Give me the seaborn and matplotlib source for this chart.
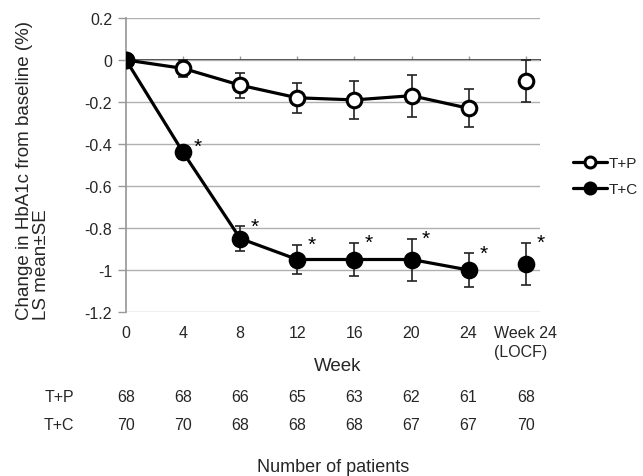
import numpy as np
import pandas as pd
import matplotlib
matplotlib.use("Agg")
import matplotlib.pyplot as plt
import matplotlib.transforms as mtransforms
import seaborn as sns

weeks = ["0", "4", "8", "12", "16", "20", "24", "Week 24\n(LOCF)"]
tp_mean = [0.0, -0.04, -0.12, -0.18, -0.19, -0.17, -0.23, -0.10]
tp_se = [0.0, 0.04, 0.06, 0.07, 0.09, 0.10, 0.09, 0.10]
tc_mean = [0.0, -0.44, -0.85, -0.95, -0.95, -0.95, -1.00, -0.97]
tc_se = [0.0, 0.03, 0.06, 0.07, 0.08, 0.10, 0.08, 0.10]
tc_sig = [False, True, True, True, True, True, True, True]
n_tp = [68, 68, 66, 65, 63, 62, 61, 68]
n_tc = [70, 70, 68, 68, 68, 67, 67, 70]

sns.set_theme(style="white")
plt.rcParams["font.family"] = ["Liberation Sans", "DejaVu Sans"]

W, H = 643, 477
fig = plt.figure(figsize=(W / 100, H / 100), dpi=100)
ax = fig.add_axes([126 / W, 1 - 313 / H, (540 - 126) / W, (313 - 19) / H])

idx = np.arange(len(weeks))
rows = []
for i, w in enumerate(weeks):
    rows.append({"x": i, "group": "T+P", "mean": tp_mean[i], "se": tp_se[i]})
    rows.append({"x": i, "group": "T+C", "mean": tc_mean[i], "se": tc_se[i]})
df = pd.DataFrame(rows)
main = df[df["x"] < len(weeks) - 1]
locf = df[df["x"] == len(weeks) - 1]

styles = {"T+P": "white", "T+C": "black"}
for g, fc in styles.items():
    d = df[df["group"] == g]
    ax.errorbar(d["x"], d["mean"], yerr=d["se"], fmt="none", ecolor="#222222",
                elinewidth=1.2, capsize=3.5, capthick=1.2, zorder=3)

for g, fc in styles.items():
    d = main[main["group"] == g]
    sns.lineplot(data=d, x="x", y="mean", ax=ax, color="black", linewidth=2.3,
                 marker="o", markersize=10.5, markerfacecolor=fc,
                 markeredgecolor="black", markeredgewidth=2.2, zorder=4,
                 label=g, legend=False)
    d2 = locf[locf["group"] == g]
    ax.plot(d2["x"], d2["mean"], linestyle="none", marker="o", markersize=10.5,
            markerfacecolor=fc, markeredgecolor="black", markeredgewidth=2.2, zorder=4)

# significance stars
for i in idx:
    if tc_sig[i]:
        ax.annotate("*", (i, tc_mean[i] + tc_se[i]), xytext=(10.5, 0),
                    textcoords="offset points", ha="center", va="center",
                    fontsize=15, color="black")

ax.set_xlim(0, 7.25)
ax.set_ylim(-1.2, 0.2)
ax.set_yticks(np.arange(-1.2, 0.21, 0.2))
ax.set_yticklabels(["-1.2", "-1", "-0.8", "-0.6", "-0.4", "-0.2", "0", "0.2"])
ax.set_xticks(idx)
ax.set_xticklabels(weeks, fontsize=11.5, multialignment="left", linespacing=1.3)
ax.tick_params(axis="x", length=0, pad=9.5)
for lbl in ax.get_xticklabels():
    lbl.set_verticalalignment("top")
ax.tick_params(axis="y", length=6, width=1, color="#999999", labelsize=11.5, pad=4,
               direction="out", left=True)
ax.yaxis.grid(True, color="#b0b0b0", linewidth=1)
ax.xaxis.grid(False)
for s in ["top", "right", "bottom"]:
    ax.spines[s].set_visible(False)
ax.spines["left"].set_color("#999999")
ax.set_xlabel("")
ax.set_ylabel("")

# x-axis line crossing at 0 with small tick marks
sec = ax.secondary_xaxis((0 - (-1.2)) / 1.4)
sec.set_xticks(idx)
sec.set_xticklabels([])
sec.tick_params(axis="x", direction="out", length=3, color="#999999", width=1)
sec.spines["bottom"].set_color("#999999")

fig.text(338 / W, 1 - 367 / H, "Week", ha="center", va="center", fontsize=13.5)

# patient numbers table
trans = mtransforms.blended_transform_factory(ax.transData, fig.transFigure)
for i in idx:
    ax.text(i, 1 - 398 / H, str(n_tp[i]), transform=trans, ha="center", va="center", fontsize=11.5)
    ax.text(i, 1 - 426 / H, str(n_tc[i]), transform=trans, ha="center", va="center", fontsize=11.5)
fig.text(59 / W, 1 - 398 / H, "T+P", ha="center", va="center", fontsize=11.5)
fig.text(59 / W, 1 - 426 / H, "T+C", ha="center", va="center", fontsize=11.5)
fig.text(333 / W, 1 - 468 / H, "Number of patients", ha="center", va="center", fontsize=13)

fig.text(33 / W, 1 - 320 / H, "Change in HbA1c from baseline (%)\nLS mean\u00b1SE", rotation=90,
         ha="center", va="bottom", multialignment="left", linespacing=1.05, fontsize=13.5)

handles, labels = ax.get_legend_handles_labels()
leg = fig.legend(handles, labels, loc="center left", bbox_to_anchor=(573 / W, 1 - 177 / H),
                 frameon=False, fontsize=11, handlelength=2.2, handletextpad=0.15,
                 labelspacing=0.8, borderpad=0, borderaxespad=0, markerscale=0.75)

fig.savefig("out.png", dpi=100)
